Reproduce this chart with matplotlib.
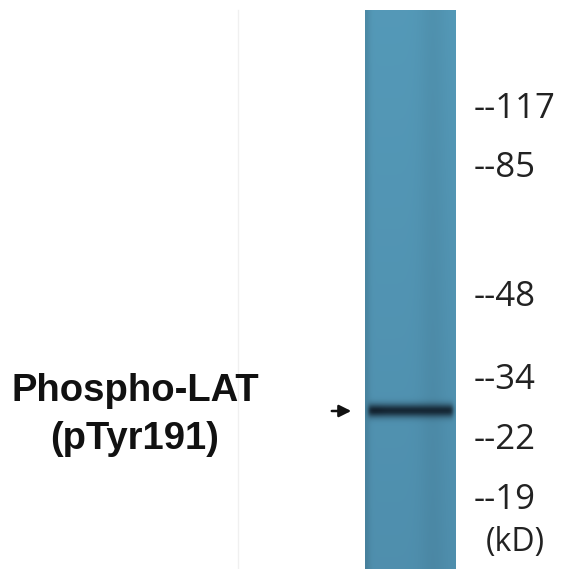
import numpy as np
import matplotlib.pyplot as plt

# marker ladder (kD) and their vertical positions on the blot (px)
marker_labels = ["117", "85", "48", "34", "22", "19"]
marker_y = [109, 168, 297, 380, 440, 500]

# detected band
band_label = ["Phospho-LAT", "(pTyr191)"]
band_y = 411

W, H = 572, 569
fig = plt.figure(figsize=(W / 100, H / 100), dpi=100)
ax = fig.add_axes([0, 0, 1, 1])
ax.set_xlim(0, W)
ax.set_ylim(H, 0)
ax.axis("off")

# lane image
lane_x0, lane_x1, lane_y0, lane_y1 = 365, 456, 10, 569
ny, nx = 280, 60
yy = np.linspace(lane_y0, lane_y1, ny)[:, None]
xx = np.linspace(0, 1, nx)[None, :]
top = np.array([0.33, 0.60, 0.72])
bot = np.array([0.31, 0.56, 0.68])
t = ((yy - lane_y0) / (lane_y1 - lane_y0))[..., None]
img = top * (1 - t) + bot * t
img = np.broadcast_to(img, (ny, nx, 3)).copy()
# slight darker right-hand streak and left edge
img *= (1 - 0.05 * np.exp(-((xx - 0.75) / 0.15) ** 2))[..., None]
img *= (1 - 0.10 * np.exp(-((xx - 0.0) / 0.05) ** 2))[..., None]
# band
prof_y = np.exp(-((yy - band_y) / 6.5) ** 2)
prof_x = 1 / (1 + np.exp(-(xx - 0.03) / 0.012)) * 1 / (1 + np.exp((xx - 0.975) / 0.012))
dark = 0.95 * prof_y * prof_x * (1 + 0.05 * np.exp(-((xx - 0.1) / 0.1) ** 2))
band_col = np.array([0.07, 0.13, 0.18])
img = img * (1 - np.clip(dark, 0, 1)[..., None]) + band_col * np.clip(dark, 0, 1)[..., None]
ax.imshow(np.clip(img, 0, 1), extent=[lane_x0, lane_x1, lane_y1, lane_y0],
          aspect="auto", interpolation="bilinear", zorder=2)

# faint separator line
ax.plot([238, 238], [10, 569], color="#f0f0f0", lw=1, zorder=1)

for lab, y in zip(marker_labels, marker_y):
    ax.text(474, y, "--" + lab, fontsize=25, family="Open Sans", color="#222222",
            va="center", ha="left")
ax.text(486, 542, "(kD)", fontsize=23, family="Open Sans", color="#222222",
        va="center", ha="left")

ax.text(135, 391, band_label[0], fontsize=27.5, fontweight="bold", family="Liberation Sans",
        color="#111111", ha="center", va="center")
ax.text(135, 439, band_label[1], fontsize=27.5, fontweight="bold", family="Liberation Sans",
        color="#111111", ha="center", va="center")

ax.annotate("", xy=(354, band_y), xytext=(329, band_y),
            arrowprops=dict(arrowstyle="-|>", color="#111111", lw=1.8, mutation_scale=18))

fig.savefig("out.png", dpi=100)
